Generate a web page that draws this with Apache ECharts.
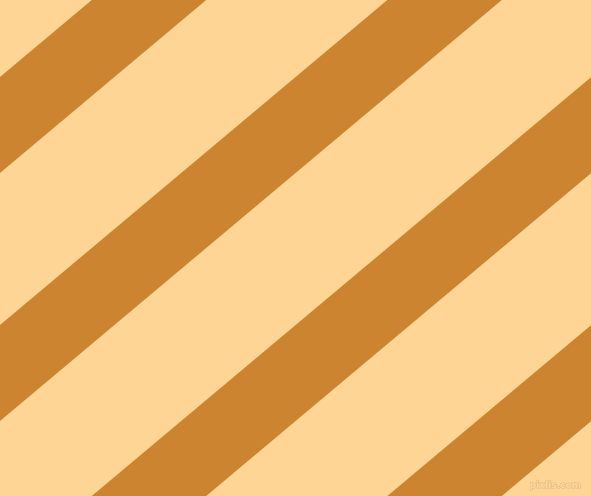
<!DOCTYPE html>
<html>
<head>
<meta charset="utf-8">
<script src="https://cdn.jsdelivr.net/npm/echarts@6/dist/echarts.min.js"></script>
<style>
html,body{margin:0;padding:0;background:#FED595;}
#chart{width:591px;height:496px;}
</style>
</head>
<body>
<div id="chart"></div>
<script>
// Stripe data: y-intercept (at x = 0) of each stripe's upper and lower edge, in pixel-units of the axes
var stripeUpper = [77, 325, 573, 821];
var stripeLower = [173, 421, 669, 917];
// edge slope (tan 40deg), y grows downward
var stripeSlope = 0.839;
var xRange = [0, 591];
var yRange = [0, 496];

var stripeData = stripeUpper.map(function (u, i) { return [u, stripeLower[i]]; });

var chart = echarts.init(document.getElementById('chart'), null, {renderer: 'canvas'});
chart.setOption({
  backgroundColor: '#FED595',
  animation: false,
  grid: {left: 0, right: 0, top: 0, bottom: 0},
  xAxis: {type: 'value', min: xRange[0], max: xRange[1], show: false},
  yAxis: {type: 'value', min: yRange[0], max: yRange[1], inverse: true, show: false},
  title: {
    text: 'pixlis.com',
    right: 9,
    bottom: 5,
    padding: 0,
    textStyle: {
      fontFamily: 'DejaVu Sans',
      fontSize: 9,
      fontWeight: 'bold',
      color: '#FBD7A0',
      textBorderColor: '#E2B77E',
      textBorderWidth: 1
    }
  },
  series: [{
    type: 'custom',
    clip: true,
    data: stripeData,
    renderItem: function (params, api) {
      var u = api.value(0), l = api.value(1);
      var x0 = xRange[0], x1 = xRange[1];
      var pts = [
        api.coord([x0, u - stripeSlope * x0]),
        api.coord([x1, u - stripeSlope * x1]),
        api.coord([x1, l - stripeSlope * x1]),
        api.coord([x0, l - stripeSlope * x0])
      ];
      return {
        type: 'polygon',
        shape: {points: pts},
        style: {fill: '#CC8430'}
      };
    }
  }]
});
</script>
</body>
</html>
